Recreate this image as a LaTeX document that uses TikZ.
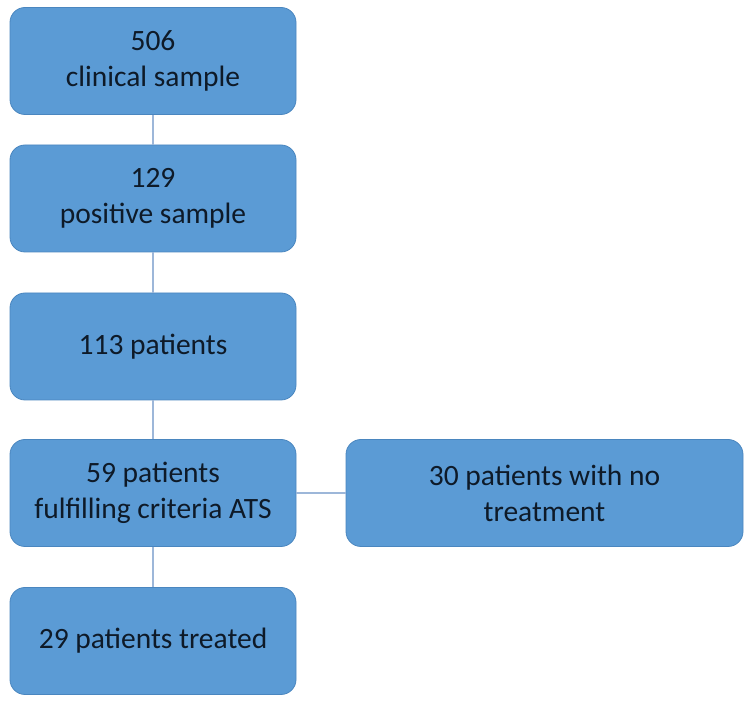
\documentclass[tikz,border=0pt]{standalone}
\usepackage{fontspec}
\setmainfont{Carlito}
\definecolor{boxfill}{HTML}{5B9BD5}
\definecolor{boxline}{HTML}{4A86BF}
\definecolor{conn}{HTML}{9DB7D9}
\definecolor{txt}{HTML}{0E1A28}
\begin{document}
\begin{tikzpicture}[x=1pt,y=1pt,
  flowbox/.style={draw=boxline, line width=0.8pt, fill=boxfill, rounded corners=15pt,
    minimum width=286pt, minimum height=107pt, align=center, inner sep=0pt,
    font=\fontsize{29.5}{36}\selectfont, text=txt},
  connline/.style={draw=conn, line width=1.2pt}]
\useasboundingbox (0,0) rectangle (750,701);
\node[flowbox] (b1) at (153,640) {506\\clinical sample};
\node[flowbox] (b2) at (153,502.5) {129\\positive sample};
\node[flowbox] (b3) at (153,354.5) {113 patients};
\node[flowbox] (b4) at (153,208) {59 patients\\fulfilling criteria ATS};
\node[flowbox] (b5) at (153,60) {29 patients treated};
\node[flowbox, minimum width=397pt] (b6) at (544.5,208) {30 patients with no\\treatment};
\draw[connline] (b1.south) -- (b2.north);
\draw[connline] (b2.south) -- (b3.north);
\draw[connline] (b3.south) -- (b4.north);
\draw[connline] (b4.south) -- (b5.north);
\draw[connline] (b4.east) -- (b6.west);
\end{tikzpicture}
\end{document}
